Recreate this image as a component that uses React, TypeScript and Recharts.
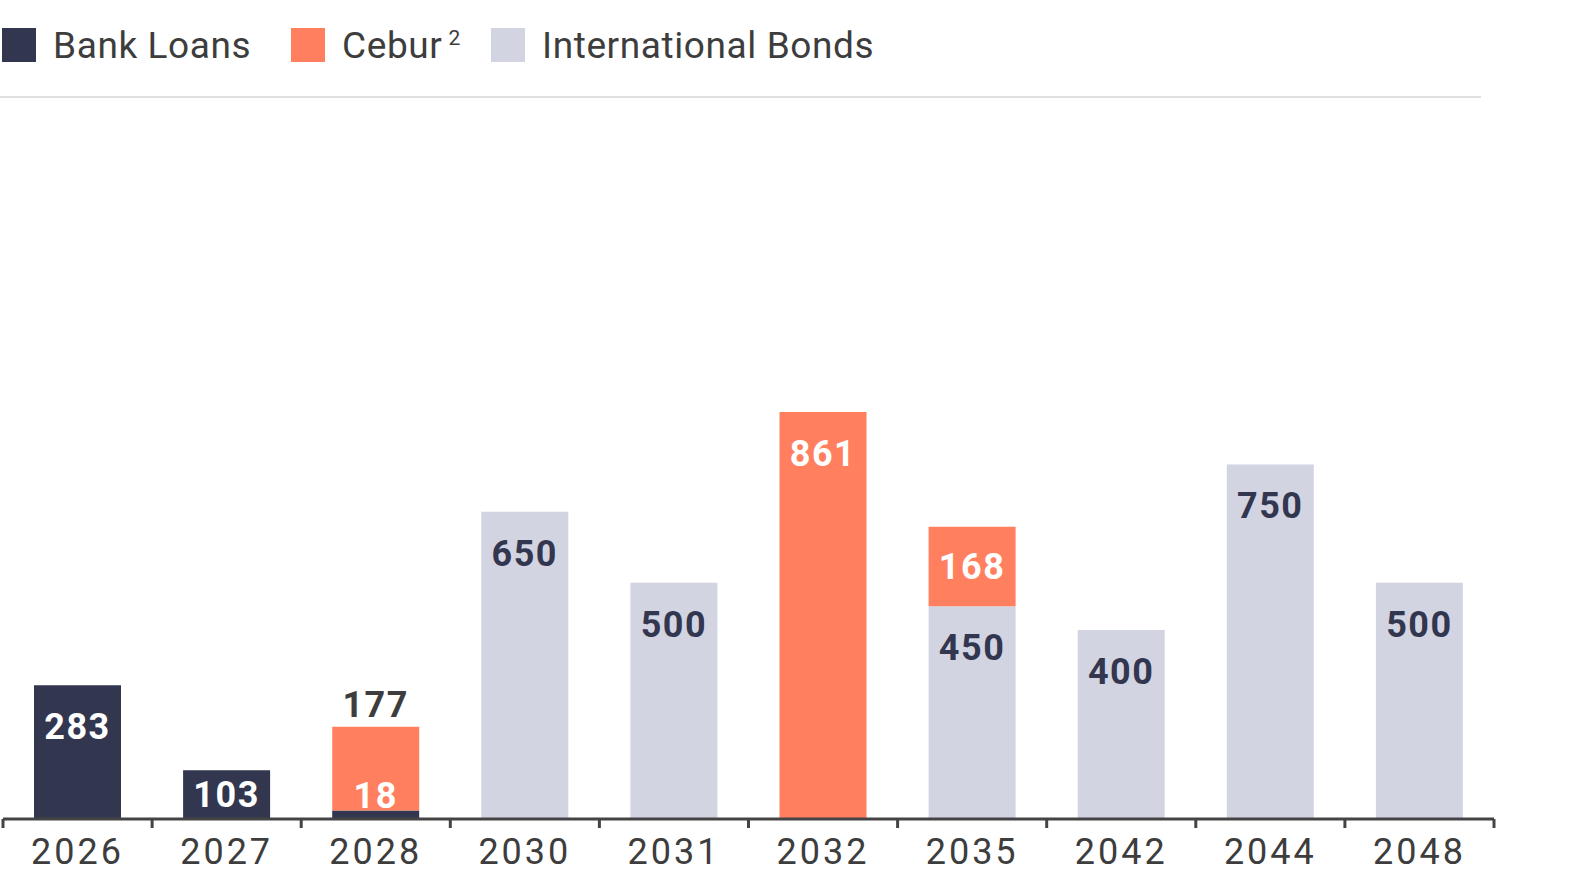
import { Bar, BarChart, LabelList, XAxis, YAxis } from 'recharts'

const YEARS = ['2026', '2027', '2028', '2030', '2031', '2032', '2035', '2042', '2044', '2048']
const BANK_LOANS = [283, 103, 18, 0, 0, 0, 0, 0, 0, 0]
const CEBUR = [0, 0, 177, 0, 0, 861, 168, 0, 0, 0]
const INTERNATIONAL_BONDS = [0, 0, 0, 650, 500, 0, 450, 400, 750, 500]

const NAVY = '#32364f'
const ORANGE = '#ff7f5e'
const LIGHT = '#d2d4e2'
const TEXT = '#3d3d3d'
const FONT = 'Roboto, "Open Sans", sans-serif'

type Row = { year: string; bank: number; cebur: number; bonds: number }

const data: Row[] = YEARS.map((year, i) => ({
  year,
  bank: BANK_LOANS[i],
  cebur: CEBUR[i],
  bonds: INTERNATIONAL_BONDS[i],
}))

const CHART_W = 1569
const CHART_H = 793
const MARGIN = { top: 0, right: 75, bottom: 0, left: 3 }
const BAND = (CHART_W - MARGIN.left - MARGIN.right) / YEARS.length

const labelStyle = { fontSize: 36, fontWeight: 700, fontFamily: FONT, letterSpacing: 1.5 }

// labels sit ~42px under a bar's top, or centred when the bar is short
function makeLabel(color: string, key: 'bank' | 'cebur' | 'bonds') {
  return (props: any) => {
    const { x, y, width, height } = props
    const row = props.value as Row
    if (!row || !row[key]) return null
    const h = Number(height)
    const top = Number(y)
    const cx = Number(x) + Number(width) / 2
    // 2028: the thin bank slice is labelled just above itself, cebur above the bar
    if (key === 'bank' && row.cebur > 0) {
      return (
        <text x={cx} y={top - 14} fill="#ffffff" {...labelStyle} textAnchor="middle" dominantBaseline="central">
          {row.bank}
        </text>
      )
    }
    if (key === 'cebur' && row.bank > 0) {
      return (
        <text x={cx} y={top - 22} fill={TEXT} {...labelStyle} textAnchor="middle" dominantBaseline="central">
          {row.cebur}
        </text>
      )
    }
    const cy = top + Math.min(42, h / 2)
    return (
      <text x={cx} y={cy} fill={color} {...labelStyle} textAnchor="middle" dominantBaseline="central">
        {row[key]}
      </text>
    )
  }
}

function YearTick(props: any) {
  const { x, y, payload, index } = props
  const left = x - BAND / 2
  const right = x + BAND / 2
  return (
    <g>
      <line x1={left} y1={y} x2={left} y2={y + 9} stroke="#444" strokeWidth={3} />
      {index === YEARS.length - 1 && (
        <line x1={right} y1={y} x2={right} y2={y + 9} stroke="#444" strokeWidth={3} />
      )}
      <text x={x} y={y + 33} fill={TEXT} fontSize={36} letterSpacing={3} fontFamily={FONT} textAnchor="middle" dominantBaseline="central">
        {payload.value}
      </text>
    </g>
  )
}

function LegendItem({ color, label, sup, left }: { color: string; label: string; sup?: string; left: number }) {
  return (
    <div style={{ position: 'absolute', left, top: 28, height: 34, display: 'flex', alignItems: 'center' }}>
      <div style={{ width: 34, height: 34, background: color, flex: 'none' }} />
      <span style={{ marginLeft: 17, fontSize: 37, letterSpacing: 0.6, color: TEXT, fontFamily: FONT, lineHeight: '34px', whiteSpace: 'nowrap', position: 'relative', top: 1 }}>
        {label}
        {sup && (
          <span style={{ position: 'absolute', left: '100%', top: -8, marginLeft: 6, fontSize: 21 }}>{sup}</span>
        )}
      </span>
    </div>
  )
}

const rowAccessor = (entry: any) => entry

export default function App() {
  return (
    <div style={{ position: 'absolute', left: 0, top: 0, width: 1569, height: 893, background: '#fff' }}>
      <LegendItem color={NAVY} label="Bank Loans" left={2} />
      <LegendItem color={ORANGE} label="Cebur" sup="2" left={291} />
      <LegendItem color={LIGHT} label="International Bonds" left={491} />
      <div style={{ position: 'absolute', left: 0, top: 96, width: 1481, height: 2, background: '#e0e0e0' }} />
      <div style={{ position: 'absolute', left: 0, top: 100 }}>
        <BarChart width={CHART_W} height={CHART_H} data={data} margin={MARGIN} barSize={87}>
          <XAxis
            dataKey="year"
            height={74}
            axisLine={{ stroke: '#444', strokeWidth: 3 }}
            tickLine={false}
            tickSize={0}
            tickMargin={0}
            tick={<YearTick />}
            interval={0}
          />
          <YAxis hide domain={[0, 1521]} />
          <Bar dataKey="bank" stackId="a" fill={NAVY} isAnimationActive={false}>
            <LabelList dataKey={rowAccessor} content={makeLabel('#ffffff', 'bank')} />
          </Bar>
          <Bar dataKey="bonds" stackId="a" fill={LIGHT} isAnimationActive={false}>
            <LabelList dataKey={rowAccessor} content={makeLabel(NAVY, 'bonds')} />
          </Bar>
          <Bar dataKey="cebur" stackId="a" fill={ORANGE} isAnimationActive={false}>
            <LabelList dataKey={rowAccessor} content={makeLabel('#ffffff', 'cebur')} />
          </Bar>
        </BarChart>
      </div>
    </div>
  )
}
